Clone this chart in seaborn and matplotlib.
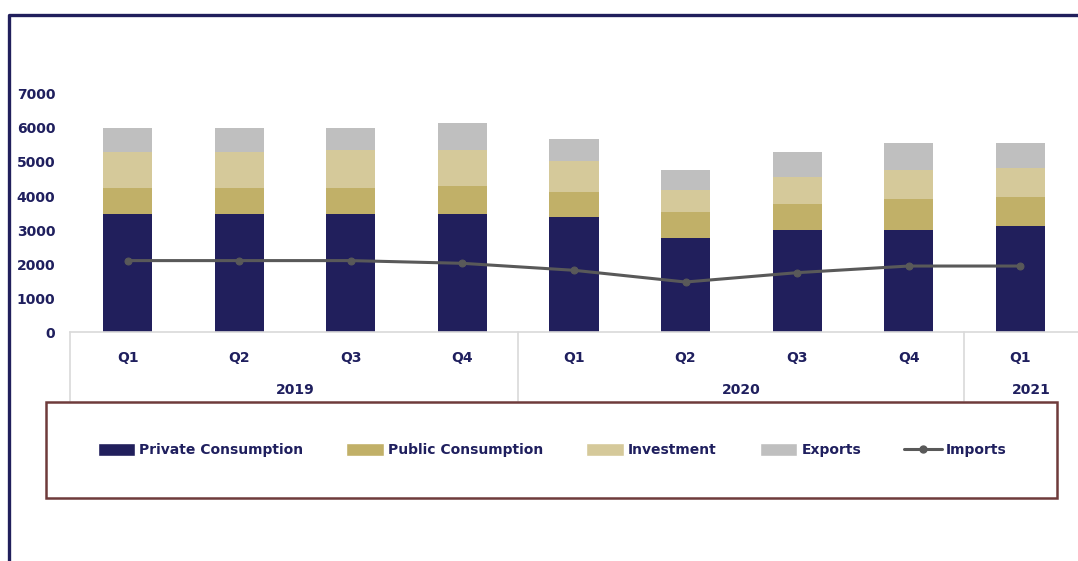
import matplotlib
matplotlib.use("Agg")
import matplotlib.pyplot as plt
from matplotlib.lines import Line2D
from matplotlib.patches import Patch, Rectangle
import numpy as np
import pandas as pd
import seaborn as sns

# quarterly GDP components
periods = ["2019 Q1", "2019 Q2", "2019 Q3", "2019 Q4",
           "2020 Q1", "2020 Q2", "2020 Q3", "2020 Q4", "2021 Q1"]
quarter_labels = ["Q1", "Q2", "Q3", "Q4", "Q1", "Q2", "Q3", "Q4", "Q1"]
years = ["2019", "2020", "2021"]
private_consumption = [3460, 3460, 3460, 3460, 3390, 2765, 2990, 2990, 3125]
public_consumption = [775, 775, 775, 840, 720, 755, 785, 920, 845]
investment = [1050, 1050, 1105, 1040, 910, 655, 785, 845, 855]
exports = [725, 725, 670, 795, 655, 580, 725, 795, 725]
imports = [2100, 2100, 2100, 2020, 1815, 1470, 1745, 1940, 1940]

NAVY = "#211F5C"
TEXT = "#1F1F5E"
colors = {
    "Private Consumption": NAVY,
    "Public Consumption": "#C1B068",
    "Investment": "#D5C99A",
    "Exports": "#BFBFBF",
}
FS = 10

df = pd.DataFrame({
    "period": periods,
    "Private Consumption": private_consumption,
    "Public Consumption": public_consumption,
    "Investment": investment,
    "Exports": exports,
    "Imports": imports,
})

sns.set_style("white")
plt.rcParams["font.family"] = ["DejaVu Sans"]

W, H = 1078, 561
fig = plt.figure(figsize=(W / 100, H / 100), dpi=100)
ax = fig.add_axes([72 / W, 1 - 332 / H, (1076 - 72) / W, (332 - 94) / H])

# stacked bars: draw cumulative totals from the top layer down
stack = ["Private Consumption", "Public Consumption", "Investment", "Exports"]
cum = df[stack].cumsum(axis=1)
for name in reversed(stack):
    sns.barplot(x=df["period"], y=cum[name], color=colors[name], width=0.44,
                saturation=1, ax=ax, order=periods, zorder=2, linewidth=0)

sns.lineplot(x=np.arange(len(periods)), y=df["Imports"], ax=ax, color="#595959",
             linewidth=2.2, marker="o", markersize=5, markeredgecolor="#595959",
             zorder=3)

ax.set_xlim(-0.5, len(periods) - 0.5)
ax.set_ylim(0, 7000)
ax.set_yticks(range(0, 7001, 1000))
ax.set_xticks(range(len(periods)))
ax.set_xticklabels(quarter_labels)
ax.set_xlabel("")
ax.set_ylabel("")
ax.tick_params(axis="both", length=0, labelsize=FS, labelcolor=TEXT)
ax.tick_params(axis="y", pad=12)
ax.tick_params(axis="x", pad=14)
for lab in ax.get_xticklabels() + ax.get_yticklabels():
    lab.set_fontweight("bold")
for side in ["left", "right", "top"]:
    ax.spines[side].set_visible(False)
ax.spines["bottom"].set_color("#D9D9D9")
ax.spines["bottom"].set_linewidth(1.2)
ax.spines["bottom"].set_bounds(-0.52, 8.6)

# category table below the axis
xt = ax.get_xaxis_transform()
for xv in [-0.52, 3.5, 7.5]:
    ax.plot([xv, xv], [0, -0.29], transform=xt, color="#D9D9D9", lw=1.2,
            clip_on=False)
for yr, xc in zip(years, [1.5, 5.5, 8.1]):
    ax.text(xc, -0.245, yr, transform=xt, ha="center", va="center",
            fontsize=FS, fontweight="bold", color=TEXT)

# outer frame (top and left edges)
fig.add_artist(Line2D([9 / W, 9 / W, 1], [0, 1 - 14.5 / H, 1 - 14.5 / H],
                      transform=fig.transFigure, color=NAVY, lw=2.4))

# legend box
fig.add_artist(Rectangle((46 / W, 1 - 498 / H), (1057 - 46) / W, (498 - 402) / H,
                         transform=fig.transFigure, fill=False,
                         edgecolor="#6E3B3B", lw=1.8))
handles = [Patch(facecolor=colors[n], label=n) for n in stack]
handles.append(Line2D([], [], color="#595959", lw=2.2, marker="o",
                      markersize=5, label="Imports"))
leg = fig.legend(handles=handles, loc="center", ncol=5, mode="expand",
                 bbox_to_anchor=(92 / W, 1 - 460 / H, (1012 - 92) / W, 20 / H),
                 frameon=False, handlelength=2.7, handleheight=1.1,
                 handletextpad=0.3, borderaxespad=0,
                 prop={"size": FS, "weight": "bold"})
for t in leg.get_texts():
    t.set_color(TEXT)

fig.savefig("out.png", dpi=100)
